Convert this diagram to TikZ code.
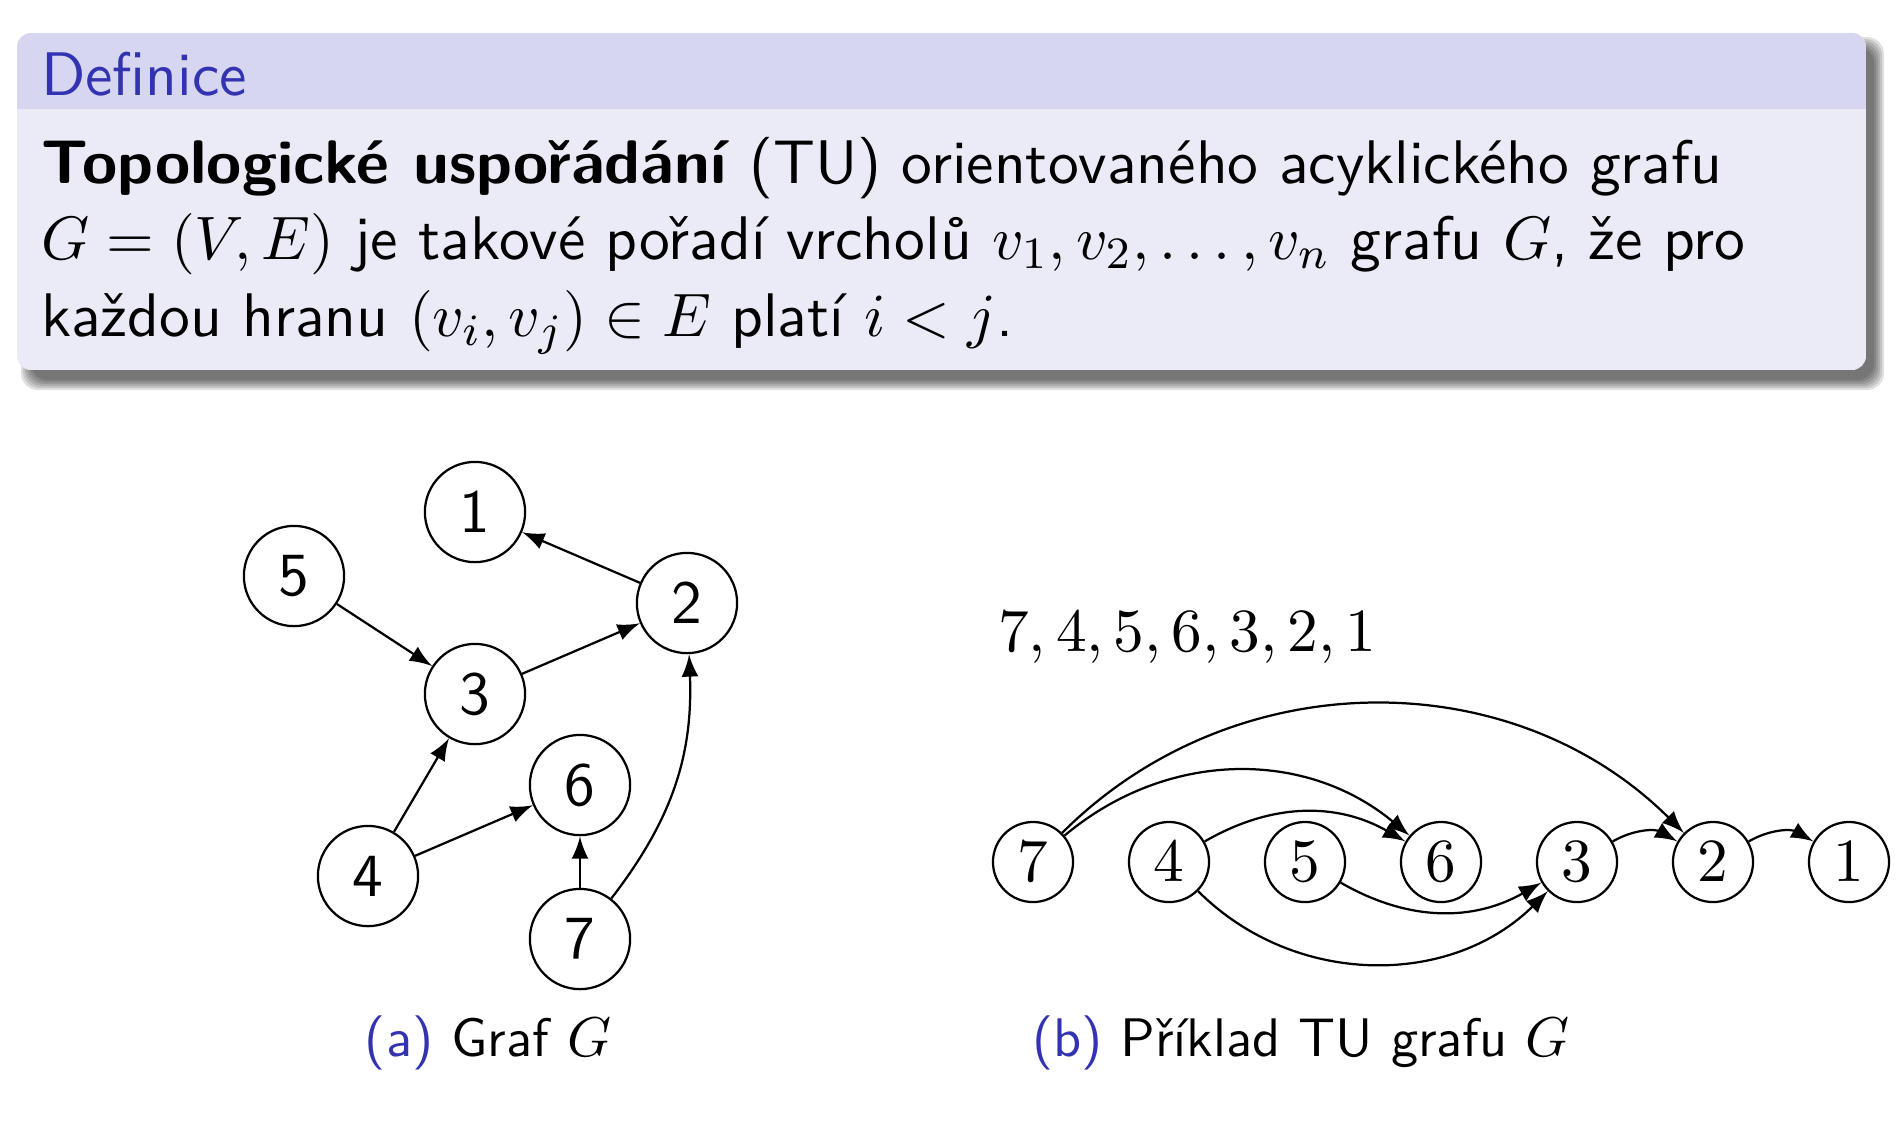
\documentclass[tikz,border=0pt,11pt]{standalone}
\usepackage{graphicx}
\definecolor{modra}{rgb}{0.2,0.2,0.7}
\colorlet{hlavicka}{modra!20!white}
\colorlet{telo}{modra!10!white}
\begin{document}
\begin{tikzpicture}[>=latex, x=0.17857pt, y=-0.17857pt,
  vrchol/.style={circle, draw, minimum size=17.9pt, inner sep=0pt, font=\sffamily},
  uzel/.style={circle, draw, minimum size=14.3pt, inner sep=0pt},
  radek/.style={anchor=base west, inner sep=0pt, font=\fontsize{10.99}{13.6}\sffamily},
  popis/.style={anchor=base, font=\fontsize{9.7}{12}\sffamily}]
\useasboundingbox (0,0) rectangle (1902,1120);
% stin bloku
\foreach \s in {0,2,...,10}
{
    \fill[black, opacity=.12, rounded corners=3pt] (31-\s,47-\s) rectangle (1874+\s,380+\s);
}
% blok Definice
\begin{scope}
\clip[rounded corners=2.5pt] (17,33) rectangle (1866,370);
\fill[telo] (17,33) rectangle (1866,370);
\fill[hlavicka] (17,33) rectangle (1866,109);
\end{scope}
\node[radek, text=modra] (nadpis) at (40,95) {Definice};
\node[radek] (r1) at (40,183) {\scalebox{1.04}[1]{\textbf{Topologické uspořádání}} (TU) orientovaného acyklického grafu};
\node[radek] (r2) at (40,259) {$G=(V,E)$ je takové pořadí vrcholů $v_1,v_2,\ldots,v_n$ grafu $G$, že pro};
\node[radek] (r3) at (40,336) {každou hranu $(v_i,v_j)\in E$ platí $i<j$.};
% (a) graf G
\node[vrchol] (a1) at (475,512) {1};
\node[vrchol] (a2) at (687,603) {2};
\node[vrchol] (a3) at (475,694) {3};
\node[vrchol] (a4) at (368,876) {4};
\node[vrchol] (a5) at (294,576) {5};
\node[vrchol] (a6) at (580,785) {6};
\node[vrchol] (a7) at (580,939) {7};
\draw[->] (a2)--(a1);
\draw[->] (a5)--(a3);
\draw[->] (a3)--(a2);
\draw[->] (a4)--(a3);
\draw[->] (a4)--(a6);
\draw[->] (a7)--(a6);
\draw[->] (a7) to[bend right=20] (a2);
\node[popis] (popisa) at (488,1056) {\textcolor{modra}{(a)} Graf $G$};
% (b) TU grafu G
\node[anchor=base west, inner sep=0pt] (poradi) at (997,651) {$7,4,5,6,3,2,1$};
\foreach \v [count=\i from 0] in {7,4,5,6,3,2,1}
{
    \node[uzel] (b\v) at (1033+136*\i,862) {$\v$};
}
\draw[->] (b7) to[bend left=45] (b2);
\draw[->] (b7) to[bend left=40] (b6);
\draw[->] (b4) to[bend left=30] (b6);
\draw[->] (b5) to[bend right=30] (b3);
\draw[->] (b4) to[bend right=45] (b3);
\draw[->] (b3) to[bend left=30] (b2);
\draw[->] (b2) to[bend left=30] (b1);
\node[popis] (popisb) at (1301,1056) {\textcolor{modra}{(b)} Příklad TU grafu $G$};
\end{tikzpicture}
\end{document}
